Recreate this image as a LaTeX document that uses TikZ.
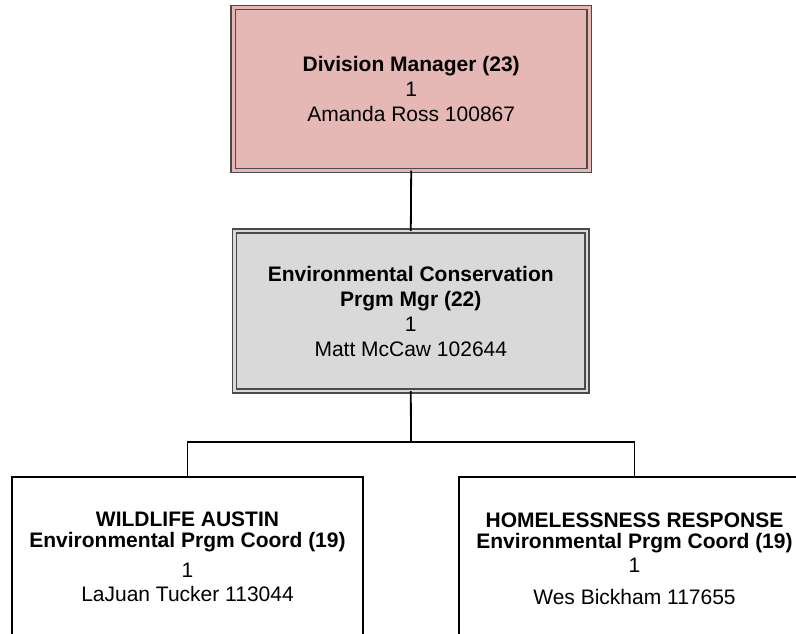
\documentclass[tikz,border=0pt]{standalone}
\usepackage{fontspec}
\setmainfont{Liberation Sans}
\definecolor{pinkfill}{HTML}{E6B8B5}
\definecolor{grayfill}{HTML}{D9D9D9}
\definecolor{bordergray}{HTML}{4A4A4A}
\begin{document}
\begin{tikzpicture}[x=1pt,y=-1pt,
  box/.style={rectangle, inner sep=0pt, outer sep=0pt, align=center,
    font=\fontsize{21}{25}\selectfont, text=black},
  dbl/.style={box, draw=bordergray, line width=1.5pt, double distance=2.6pt},
  plainbox/.style={box, draw=black, line width=1.6pt, fill=white,
    minimum width=351pt, minimum height=164pt},
  link/.style={draw=black, line width=1.8pt}]
\useasboundingbox (0,0) rectangle (796,634);
\clip (0,0) rectangle (796,634);
\node[dbl, fill=pinkfill, double=pinkfill, minimum width=356pt, minimum height=163pt]
  (dm) at (411.2,89) {\textbf{Division Manager (23)}\\1\\Amanda Ross 100867};
\node[dbl, fill=grayfill, double=grayfill, minimum width=352.5pt, minimum height=160pt]
  (ecm) at (410.8,311) {\textbf{Environmental Conservation}\\\textbf{Prgm Mgr (22)}\\1\\Matt McCaw 102644};
\node[plainbox] (wa) at (187.5,559)
  {\textbf{WILDLIFE AUSTIN}\\[-4pt]\textbf{Environmental Prgm Coord (19)}\\[5pt]1\\[-1pt]LaJuan Tucker 113044\rule[-4pt]{0pt}{4pt}};
\node[plainbox] (hr) at (634.5,559)
  {\textbf{HOMELESSNESS RESPONSE}\\[-4pt]\textbf{Environmental Prgm Coord (19)}\\[-1pt]1\\[7pt]Wes Bickham 117655};
\coordinate (bar) at (411,442);
\draw[link] (dm.south) -- (ecm.north);
\draw[link] (ecm.south) -- (bar);
\draw[link] (wa.north) |- (bar) -| (hr.north);
\end{tikzpicture}
\end{document}
